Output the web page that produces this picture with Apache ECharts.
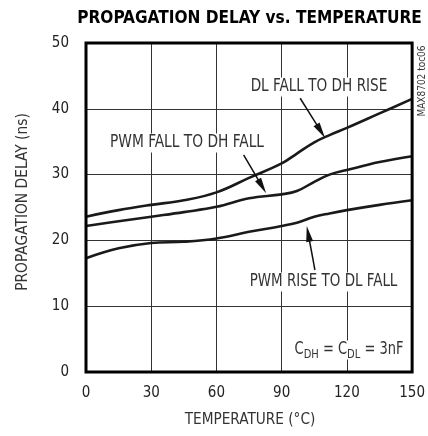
<!DOCTYPE html>
<html>
<head>
<meta charset="utf-8">
<script src="https://cdn.jsdelivr.net/npm/echarts@6/dist/echarts.min.js"></script>
<style>html,body{margin:0;padding:0;background:#fff}#c{width:428px;height:436px}</style>
</head>
<body>
<div id="c"></div>
<script>
// ---- data ----
const temps = [0, 15, 30, 45, 60, 75, 90, 97, 105, 112, 120, 135, 150];
const dlFallDhRise = [23.6, 24.6, 25.4, 26.1, 27.3, 29.5, 31.7, 33.2, 34.9, 36.0, 37.1, 39.3, 41.5];
const pwmFallDhFall = [22.2, 22.9, 23.6, 24.3, 25.1, 26.4, 27.0, 27.5, 28.9, 30.0, 30.7, 31.9, 32.8];
const pwmRiseDlFall = [17.3, 18.8, 19.6, 19.8, 20.3, 21.3, 22.2, 22.7, 23.6, 24.1, 24.6, 25.4, 26.1];
const xTicks = [0, 30, 60, 90, 120, 150];
const yTicks = [0, 10, 20, 30, 40, 50];
// arrows: [from, to] in data units
const arrows = [
  [[98.5, 41.6], [108.0, 36.6]],
  [[72.5, 33.0], [81.0, 28.2]],
  [[105.3, 15.5], [102.2, 21.0]]
];

const FONT = '"Liberation Sans Narrow", "DejaVu Sans Condensed", "Roboto Condensed", sans-serif';
const pair = (ys) => temps.map((t, i) => [t, ys[i]]);

const chart = echarts.init(document.getElementById('c'), null, {renderer: 'canvas'});
const lineStyle = {color: '#1a1a1a', width: 2.6};
const mk = (name, ys) => ({
  name, type: 'line', data: pair(ys), smooth: 0.4,
  showSymbol: false, symbol: 'none', lineStyle, z: 3, silent: true
});
const label = (text, x, y, sx, extra) => Object.assign({
  type: 'text', x, y, scaleX: sx, z: 10,
  style: {text, fontFamily: FONT, fontSize: 17, fill: '#333', align: 'center', verticalAlign: 'middle',
    backgroundColor: '#fff', padding: [1, 2]}
}, extra || {});

chart.setOption({
  animation: false,
  backgroundColor: '#fff',
  grid: {left: 86, right: 13, top: 43, bottom: 64, show: true, borderColor: '#000', borderWidth: 3, z: 4},
  xAxis: {
    type: 'value', min: 0, max: 150, interval: 30,
    axisLine: {show: false}, axisTick: {show: false},
    splitLine: {show: true, lineStyle: {color: '#333', width: 1}},
    axisLabel: {margin: 14, fontFamily: FONT, fontSize: 15, color: '#222',
      formatter: v => xTicks.includes(v) ? String(v) : ''}
  },
  yAxis: {
    type: 'value', min: 0, max: 50, interval: 10,
    axisLine: {show: false}, axisTick: {show: false},
    splitLine: {show: true, lineStyle: {color: '#333', width: 1}},
    axisLabel: {margin: 17, fontFamily: FONT, fontSize: 15, color: '#222',
      formatter: v => yTicks.includes(v) ? String(v) : ''}
  },
  series: [
    mk('DL FALL TO DH RISE', dlFallDhRise),
    mk('PWM FALL TO DH FALL', pwmFallDhFall),
    mk('PWM RISE TO DL FALL', pwmRiseDlFall),
    {
      type: 'line', data: [], silent: true,
      markLine: {
        silent: true, animation: false,
        symbol: ['none', 'triangle'],
        label: {show: false},
        lineStyle: {color: '#111', width: 1.5, type: 'solid'},
        data: arrows.map(a => [
          {coord: a[0], symbol: 'none'},
          {coord: a[1], symbol: 'triangle', symbolSize: [7, 16]}
        ])
      }
    }
  ],
  graphic: [
    {type: 'text', x: 249.5, y: 18, scaleX: 0.95, z: 10, style: {text: 'PROPAGATION DELAY vs. TEMPERATURE',
      fontFamily: FONT, fontWeight: 'bold', fontSize: 18, fill: '#000', align: 'center', verticalAlign: 'middle'}},
    label('DL FALL TO DH RISE', 319, 87, 0.89),
    label('PWM FALL TO DH FALL', 187, 143, 0.9),
    label('PWM RISE TO DL FALL', 323.5, 282, 0.88),
    {type: 'text', x: 349, y: 350, scaleX: 0.85, z: 10, style: {
      text: '{b|C}{s|DH}{b| = C}{s|DL}{b| = 3nF}', fontFamily: FONT, fill: '#333', backgroundColor: '#fff', padding: [1, 2],
      align: 'center', verticalAlign: 'middle',
      rich: {b: {fontFamily: FONT, fontSize: 17, fill: '#333', verticalAlign: 'bottom'},
             s: {fontFamily: FONT, fontSize: 13, fill: '#333', verticalAlign: 'bottom', padding: [0, 0, -3, 0]}}
    }},
    {type: 'text', x: 422, y: 81, rotation: Math.PI / 2, scaleX: 0.95, z: 10, style: {text: 'MAX8702 toc06', fontFamily: FONT, fontSize: 10.5, fill: '#333', align: 'center', verticalAlign: 'middle'}},
    {type: 'text', x: 23, y: 202, rotation: Math.PI / 2, scaleX: 0.96, z: 10, style: {text: 'PROPAGATION DELAY (ns)', fontFamily: FONT, fontSize: 16, fill: '#333', align: 'center', verticalAlign: 'middle'}},
    {type: 'text', x: 250, y: 420, scaleX: 0.95, z: 10, style: {text: 'TEMPERATURE (°C)', fontFamily: FONT, fontSize: 16, fill: '#333', align: 'center', verticalAlign: 'middle'}}
  ]
});
</script>
</body>
</html>
